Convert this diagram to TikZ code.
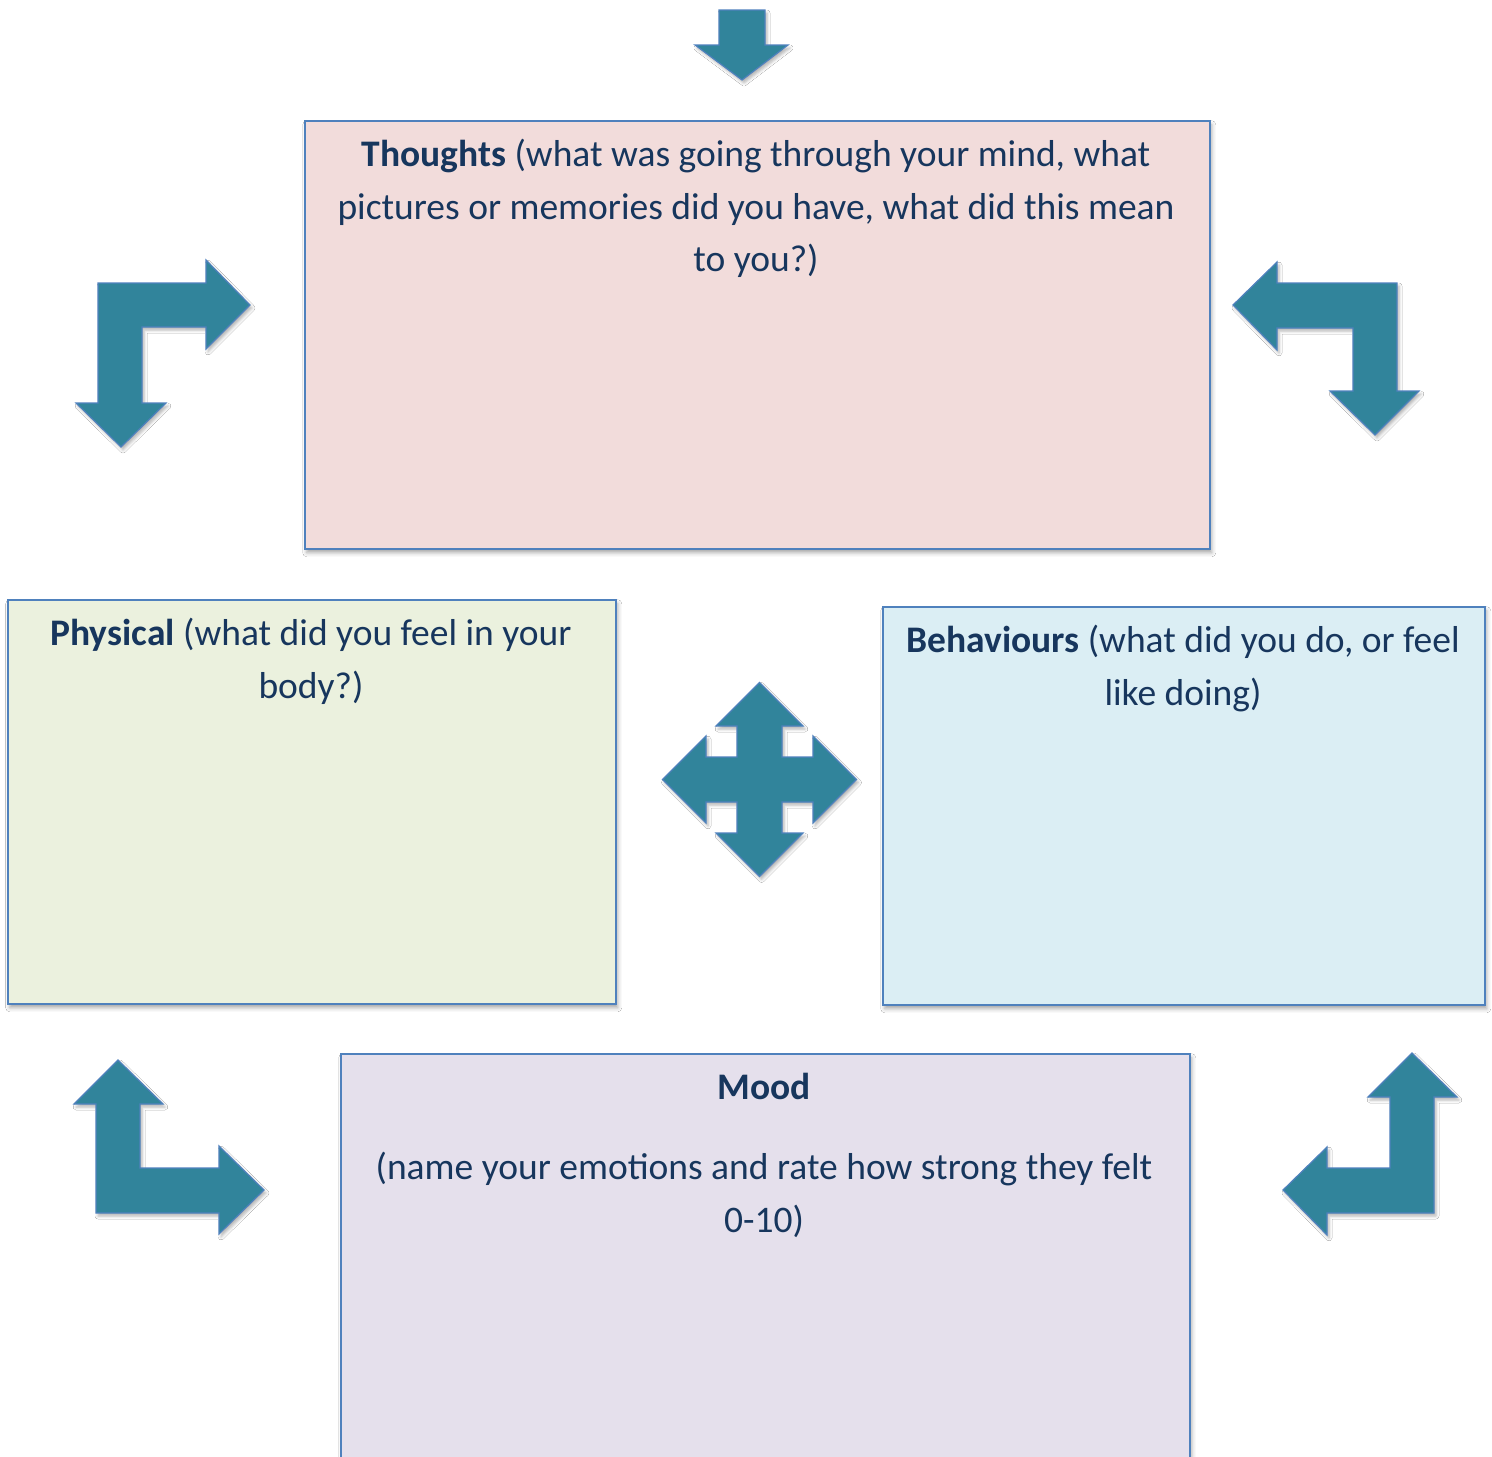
\documentclass[tikz,border=0pt]{standalone}
\usepackage{fontspec}
\setmainfont{Carlito}
\usetikzlibrary{shadows.blur}
\definecolor{arrowfill}{HTML}{31849B}
\definecolor{edgeblue}{HTML}{4F81BD}
\definecolor{inkblue}{HTML}{17365D}
\definecolor{thoughtsbg}{HTML}{F2DCDB}
\definecolor{physicalbg}{HTML}{EBF1DE}
\definecolor{behaviourbg}{HTML}{DBEEF4}
\definecolor{moodbg}{HTML}{E5E0EC}
\begin{document}
\begin{tikzpicture}[x=1pt,y=-1pt,
  panel/.style={draw=edgeblue, line width=1.5pt, inner sep=0pt, anchor=north west,
    blur shadow={shadow xshift=2pt, shadow yshift=-4pt, shadow blur radius=4pt, shadow opacity=35}},
  paneltext/.style={text=inkblue, align=center, inner sep=0pt, anchor=north,
    font=\fontsize{37.5}{52.5}\selectfont},
  bigarrow/.style={fill=arrowfill, draw=edgeblue, line width=1.2pt, line join=miter,
    blur shadow={shadow xshift=2pt, shadow yshift=-3pt, shadow blur radius=3pt, shadow opacity=30}}]
\useasboundingbox (0,0) rectangle (1492,1457);
\clip (0,0) rectangle (1492,1457);
\fill[white] (0,0) rectangle (1492,1457);

% four panels
\node[panel, fill=thoughtsbg, minimum width=905pt, minimum height=428pt] (thoughts) at (304,120) {};
\node[panel, fill=physicalbg, minimum width=608pt, minimum height=404pt] (physical) at (7,599) {};
\node[panel, fill=behaviourbg, minimum width=602pt, minimum height=398pt] (behaviours) at (882,606) {};
\node[panel, fill=moodbg, minimum width=849pt, minimum height=440pt] (mood) at (340,1053) {};

% panel texts
\node[paneltext] (thoughtstext) at (756,139)
  {\textbf{Thoughts} (what was going through your mind, what\\
   pictures or memories did you have, what did this mean\\ to you?)};
\node[paneltext] (physicaltext) at (311,618)
  {\textbf{Physical} (what did you feel in your\\ body?)};
\node[paneltext] (behaviourstext) at (1183,625)
  {\textbf{Behaviours} (what did you do, or feel\\ like doing)};
\node[paneltext] (moodtitle) at (764,1073) {\textbf{Mood}};
\node[paneltext] (moodtext) at (764,1152)
  {(name your emotions and rate how strong they felt\\ 0-10)};

% arrow into the thoughts panel
\draw[bigarrow] (719,10) -- (765,10) -- (765,45) -- (788,45) -- (742,80) -- (695,45) -- (719,45) -- cycle;

% bent arrow, upper left
\draw[bigarrow] (98,283) -- (206,283) -- (206,260) -- (250,305) -- (206,349) -- (206,327)
  -- (142,327) -- (142,403) -- (166,403) -- (121,447) -- (76,403) -- (98,403) -- cycle;

% bent arrow, upper right
\draw[bigarrow] (1397,283) -- (1277,283) -- (1277,262) -- (1233,305) -- (1277,350) -- (1277,328)
  -- (1353,328) -- (1353,391) -- (1330,391) -- (1375,435) -- (1419,391) -- (1397,391) -- cycle;

% four-way arrow in the middle
\begin{scope}[shift={(759.5,779.5)}]
\draw[bigarrow] (-22.5,-53.5) -- (-43.5,-53.5) -- (0,-97) -- (43.5,-53.5) -- (22.5,-53.5)
  -- (22.5,-22.5) -- (53.5,-22.5) -- (53.5,-43.5) -- (97,0) -- (53.5,43.5) -- (53.5,22.5)
  -- (22.5,22.5) -- (22.5,53.5) -- (43.5,53.5) -- (0,97) -- (-43.5,53.5) -- (-22.5,53.5)
  -- (-22.5,22.5) -- (-53.5,22.5) -- (-53.5,43.5) -- (-97,0) -- (-53.5,-43.5) -- (-53.5,-22.5)
  -- (-22.5,-22.5) -- cycle;
\end{scope}

% bent arrow, lower left
\draw[bigarrow] (118,1060) -- (163,1104) -- (140,1104) -- (140,1168) -- (219,1168) -- (219,1146)
  -- (264,1190) -- (219,1234) -- (219,1213) -- (96,1213) -- (96,1104) -- (74,1104) -- cycle;

% bent arrow, lower right
\draw[bigarrow] (1412,1053) -- (1457,1097) -- (1434,1097) -- (1434,1213) -- (1327,1213) -- (1327,1235)
  -- (1283,1190) -- (1327,1147) -- (1327,1168) -- (1390,1168) -- (1390,1097) -- (1368,1097) -- cycle;
\end{tikzpicture}
\end{document}
